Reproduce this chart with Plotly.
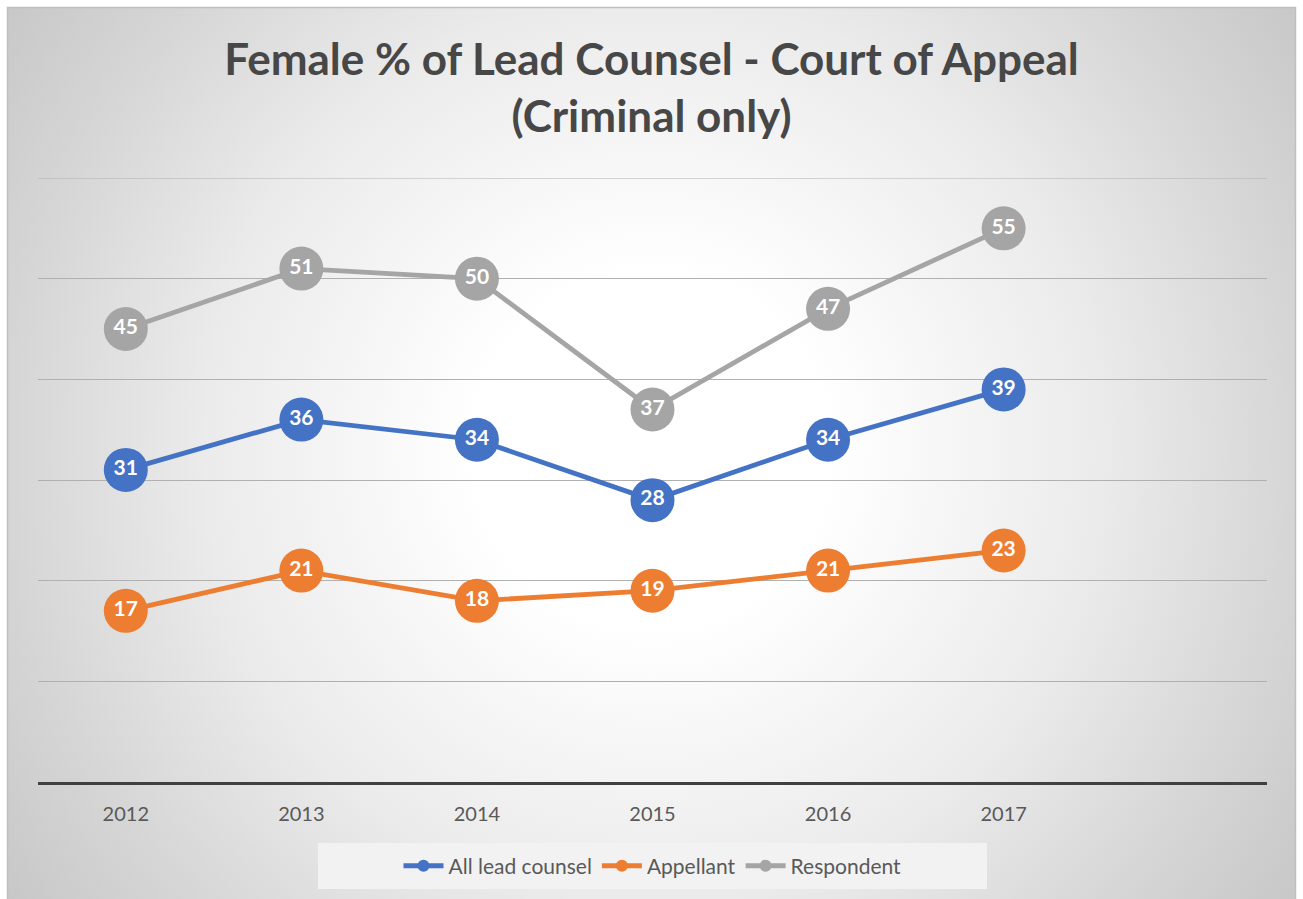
import base64
import plotly.graph_objects as go

years = ["2012", "2013", "2014", "2015", "2016", "2017"]
all_lead = [31, 36, 34, 28, 34, 39]
appellant = [17, 21, 18, 19, 21, 23]
respondent = [45, 51, 50, 37, 47, 55]
grid_vals = [0, 10, 20, 30, 40, 50, 60]

W, H = 1303, 899
L, R, T, B = 38, 36, 178, 117
pw, ph = W - L - R, H - T - B

svg = f'''<svg xmlns="http://www.w3.org/2000/svg" width="{W}" height="{H}" viewBox="0 0 {W} {H}">
<defs><radialGradient id="g" gradientUnits="userSpaceOnUse" cx="652" cy="450" r="800">
<stop offset="0" stop-color="#ffffff"/><stop offset="0.22" stop-color="#ffffff"/>
<stop offset="0.56" stop-color="#ebebeb"/><stop offset="0.8" stop-color="#d6d6d6"/>
<stop offset="1" stop-color="#c6c6c6"/></radialGradient></defs>
<rect x="0" y="0" width="{W}" height="{H}" fill="#ffffff"/>
<rect x="7.5" y="7.5" width="{W-15}" height="{H}" fill="url(#g)" stroke="#bfbfbf" stroke-width="1.5"/>
</svg>'''
src = "data:image/svg+xml;base64," + base64.b64encode(svg.encode()).decode()

x = list(range(len(years)))
series = [("All lead counsel", all_lead, "#4472C4"),
          ("Appellant", appellant, "#ED7D31"),
          ("Respondent", respondent, "#A5A5A5")]

fig = go.Figure()
for name, vals, col in series:
    fig.add_trace(go.Scatter(
        x=x, y=vals, name=name, mode="lines+markers+text",
        line=dict(color=col, width=4.8),
        marker=dict(color=col, size=44, line=dict(width=0)),
        text=[str(v) for v in vals], textposition="middle center",
        textfont=dict(family="Lato", size=21, color="white", weight="bold"),
        cliponaxis=False,
    ))

top = max(grid_vals)
fig.update_layout(
    width=W, height=H,
    margin=dict(l=L, r=R, t=T, b=B),
    paper_bgcolor="white", plot_bgcolor="rgba(0,0,0,0)",
    images=[dict(source=src, xref="paper", yref="paper",
                 x=-L / pw, y=1 + T / ph, sizex=W / pw, sizey=H / ph,
                 xanchor="left", yanchor="top", sizing="stretch", layer="below")],
    shapes=[dict(type="rect", xref="paper", yref="paper", layer="below",
                 x0=(318 - L) / pw, x1=(987 - L) / pw,
                 y0=-(889 - 782) / ph, y1=-(843 - 782) / ph,
                 fillcolor="#f2f2f2", line=dict(width=0)),
            dict(type="line", xref="paper", yref="y", layer="below",
                 x0=0, x1=1, y0=top, y1=top, line=dict(color="#b0b0b0", width=1))],
    title=dict(text="Female % of Lead Counsel - Court of Appeal<br>(Criminal only)",
               x=0.5, xanchor="center", y=1 - 75 / H, yanchor="middle",
               font=dict(family="Lato", size=44, color="#474747", weight="bold")),
    showlegend=True,
    legend=dict(orientation="h", x=0.5, xanchor="center", y=-(866 - 782) / ph, yanchor="middle",
                bgcolor="rgba(0,0,0,0)", font=dict(family="Lato", size=21, color="#595959"),
                itemsizing="constant", itemwidth=40, tracegroupgap=0),
    xaxis=dict(range=[-0.5, 6.5], tickvals=x, ticktext=years, showgrid=False, zeroline=False,
               showline=True, linecolor="#404040", linewidth=3, ticks="",
               tickfont=dict(family="Lato", size=20, color="#595959"), ticklabelstandoff=12),
    yaxis=dict(range=[0, top], tickvals=grid_vals, showticklabels=False,
               showgrid=True, gridcolor="#b0b0b0", gridwidth=1, zeroline=False, showline=False),
)

fig.write_html("out.html", config={"displayModeBar": False},
               post_script="document.body.style.margin='0';document.body.style.padding='0';")
